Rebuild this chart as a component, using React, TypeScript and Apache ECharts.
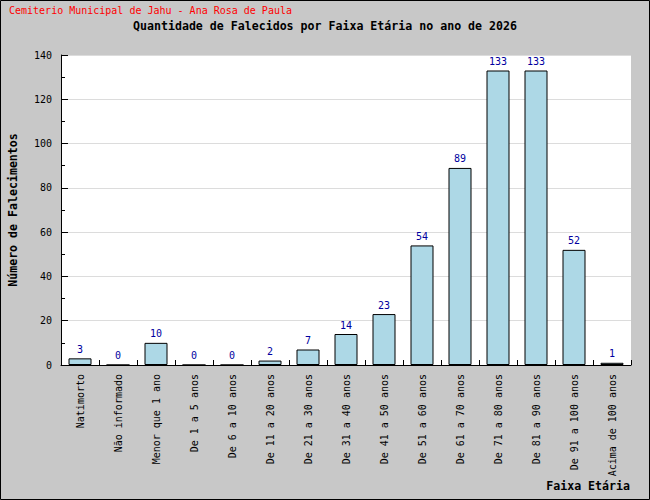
import React, { useEffect, useRef } from "react";
import * as echarts from "echarts";

const categories = [
  "Natimorto",
  "Não informado",
  "Menor que 1 ano",
  "De 1 a 5 anos",
  "De 6 a 10 anos",
  "De 11 a 20 anos",
  "De 21 a 30 anos",
  "De 31 a 40 anos",
  "De 41 a 50 anos",
  "De 51 a 60 anos",
  "De 61 a 70 anos",
  "De 71 a 80 anos",
  "De 81 a 90 anos",
  "De 91 a 100 anos",
  "Acima de 100 anos",
];
const values = [3, 0, 10, 0, 0, 2, 7, 14, 23, 54, 89, 133, 133, 52, 1];

const MONO = "'DejaVu Sans Mono', 'Liberation Mono', monospace";

export default function App() {
  const ref = useRef<HTMLDivElement>(null);
  useEffect(() => {
    document.body.style.margin = "0";
    const chart = echarts.init(ref.current!, null, { renderer: "svg" });
    chart.setOption({
      animation: false,
      backgroundColor: "#c8c8c8",
      title: [
        {
          text: "Cemiterio Municipal de Jahu - Ana Rosa de Paula",
          left: 4,
          top: 0,
          textStyle: { color: "#ff0000", fontSize: 10, fontWeight: "normal", fontFamily: MONO },
        },
        {
          text: "Quantidade de Falecidos por Faixa Etária no ano de 2026",
          left: "center",
          top: 15,
          textStyle: { color: "#000", fontSize: 11.6, fontWeight: "bold", fontFamily: MONO },
        },
      ],
      graphic: [
        {
          type: "rect",
          shape: { x: 0.5, y: 0.5, width: 649, height: 499 },
          style: { fill: "none", stroke: "#000", lineWidth: 1 },
          silent: true,
        },
        {
          type: "text",
          x: 630,
          y: 486,
          style: {
            text: "Faixa Etária",
            fill: "#000",
            fontSize: 11.6,
            fontWeight: "bold",
            fontFamily: MONO,
            align: "right",
            verticalAlign: "middle",
          },
          silent: true,
        },
      ],
      grid: {
        left: 61,
        right: 19,
        top: 55,
        bottom: 135,
        show: true,
        backgroundColor: "#ffffff",
        borderWidth: 0,
        containLabel: false,
        outerBoundsMode: "none",
      },
      xAxis: {
        type: "category",
        data: categories,
        axisLine: { lineStyle: { color: "#000", width: 1 } },
        axisTick: { show: true, inside: true, length: 5, lineStyle: { color: "#000" } },
        axisLabel: {
          rotate: 90,
          interval: 0,
          color: "#000",
          fontSize: 10,
          fontFamily: MONO,
          margin: 9,
        },
        splitLine: { show: false },
      },
      yAxis: {
        type: "value",
        min: 0,
        max: 140,
        interval: 20,
        name: "Número de Falecimentos",
        nameLocation: "middle",
        nameGap: 42,
        nameRotate: 90,
        nameTextStyle: { color: "#000", fontSize: 11.6, fontWeight: "bold", fontFamily: MONO },
        axisLine: { show: true, lineStyle: { color: "#000", width: 1 } },
        axisTick: { show: true, inside: true, length: 7, lineStyle: { color: "#000" } },
        minorTick: { show: true, splitNumber: 2, length: 4, lineStyle: { color: "#000" } },
        axisLabel: { color: "#000", fontSize: 10, fontFamily: MONO, margin: 9 },
        splitLine: { show: true, lineStyle: { color: "#dcdcdc", width: 1 } },
      },
      series: [
        {
          type: "bar",
          data: values,
          barWidth: 23,
          itemStyle: { color: "#add8e6", borderColor: "#000", borderWidth: 1 },
          label: {
            show: true,
            position: "top",
            distance: 4,
            color: "#0000a0",
            fontSize: 10,
            fontFamily: MONO,
          },
        },
      ],
    });
    return () => chart.dispose();
  }, []);
  return <div ref={ref} style={{ width: 650, height: 500 }} />;
}
